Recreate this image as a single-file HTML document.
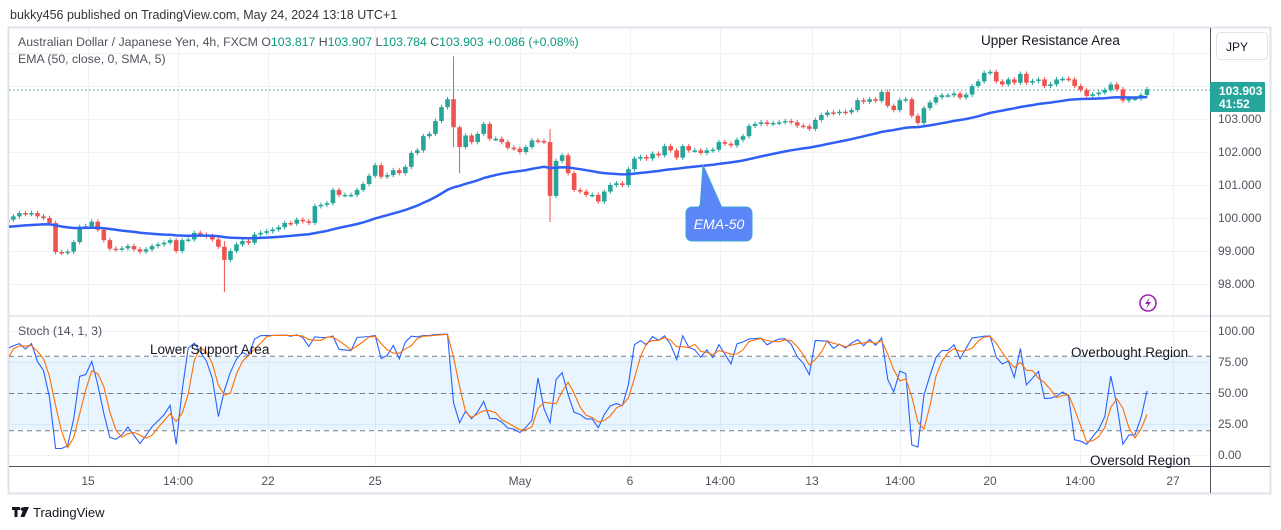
<!DOCTYPE html>
<html><head><meta charset="utf-8"><style>
html,body{margin:0;padding:0;background:#fff;width:1281px;height:530px;overflow:hidden}
svg{display:block;font-family:"Liberation Sans",sans-serif}
</style></head><body>
<svg id="chart" width="1281" height="530" viewBox="0 0 1281 530" xmlns="http://www.w3.org/2000/svg">
<defs><clipPath id="plotclip"><rect x="9" y="28" width="1201" height="438"/></clipPath></defs>
<rect x="0" y="0" width="1281" height="530" fill="#fff"/>
<text x="10" y="19" font-size="12.5" fill="#333">bukky456 published on TradingView.com, May 24, 2024 13:18 UTC+1</text>
<rect x="8.5" y="27.5" width="1262" height="466" fill="none" stroke="#e0e3eb" stroke-width="2"/>
<g id="grid"></g>
<rect x="9" y="357" width="1201" height="73" fill="#2196f3" fill-opacity="0.1"/>
<g id="levels"></g>
<line x1="9" y1="316" x2="1270" y2="316" stroke="#e0e3eb" stroke-width="1.5"/>
<line x1="9" y1="466.5" x2="1270" y2="466.5" stroke="#50535e" stroke-width="1"/>
<line x1="1210.5" y1="28" x2="1210.5" y2="493" stroke="#50535e" stroke-width="1"/>
<line x1="9" y1="90" x2="1210" y2="90" stroke="#26a69a" stroke-width="1" stroke-dasharray="1.5,2.5"/>
<g clip-path="url(#plotclip)">
<g id="candles"></g>
<path id="ema" fill="none" stroke="#2f5ff5" stroke-width="2.5"/>
<path id="stochK" fill="none" stroke="#2962ff" stroke-width="1.1"/>
<path id="stochD" fill="none" stroke="#ff6d00" stroke-width="1.1"/>
</g>
<g id="axes" font-size="12" fill="#50535e"></g>
<text x="18" y="46" font-size="12.3" fill="#50535e">Australian Dollar / Japanese Yen, 4h, FXCM  O<tspan fill="#089981">103.817</tspan>  H<tspan fill="#089981">103.907</tspan>  L<tspan fill="#089981">103.784</tspan>  C<tspan fill="#089981">103.903</tspan>  <tspan fill="#089981">+0.086 (+0.08%)</tspan></text>
<text x="18" y="63" font-size="12.3" fill="#50535e">EMA (50, close, 0, SMA, 5)</text>
<text x="18" y="335" font-size="12.3" fill="#50535e">Stoch (14, 1, 3)</text>
<text x="981" y="45" font-size="13.5" fill="#131722">Upper Resistance Area</text>
<text x="150" y="354" font-size="13.5" fill="#131722">Lower Support Area</text>
<text x="1071" y="357" font-size="13.5" fill="#131722">Overbought Region</text>
<text x="1090" y="465" font-size="13.5" fill="#131722">Oversold Region</text>
<g>
<path d="M700,208 L703,165 L722,208 Z" fill="#5b86f7" stroke="#3fa3d6" stroke-width="1"/>
<rect x="686" y="207" width="66" height="34" rx="6" fill="#5b86f7" stroke="#3fa3d6" stroke-width="1"/>
<rect x="699" y="205" width="22" height="4" fill="#5b86f7"/>
<text x="719" y="229" font-size="14" font-style="italic" fill="#fff" text-anchor="middle">EMA-50</text>
</g>
<g>
<rect x="1216.5" y="32.5" width="51" height="27" rx="4" fill="#fff" stroke="#e0e3eb"/>
<text x="1226" y="51" font-size="12" fill="#131722">JPY</text>
</g>
<g>
<rect x="1210" y="82" width="55" height="30" rx="1" fill="#26a69a"/>
<text x="1219" y="95" font-size="12" font-weight="bold" fill="#fff">103.903</text>
<text x="1219" y="108" font-size="12" font-weight="bold" fill="#fff">41:52</text>
</g>
<g>
<circle cx="1148" cy="303" r="8" fill="none" stroke="#9c27b0" stroke-width="1.6"/>
<path d="M1150,297 L1145,304 L1148,304 L1146,309 L1151,302 L1148,302 Z" fill="#9c27b0"/>
</g>
<g>
<path d="M12,507 h8 v3 h-2.5 v7 h-3 v-7 h-2.5 Z" fill="#131722"/>
<circle cx="22.5" cy="509" r="1.8" fill="#131722"/>
<path d="M24,507 h5 l-4.5,10 h-4 Z" fill="#131722"/>
<text x="33" y="517" font-size="13" fill="#131722">TradingView</text>
</g>
</svg>
<script>
const closes = [99.64,99.88,99.95,100.05,100.15,100.12,100.15,100.05,100.0,99.85,98.97,98.95,98.98,99.27,99.73,
99.75,99.89,99.64,99.33,99.07,99.05,99.08,99.15,99.05,98.98,99.05,99.15,99.2,99.25,99.33,99.0,99.33,99.35,99.55,99.5,99.45,99.35,99.13,98.73,99.0,99.2,99.3,99.25,99.5,
99.55,99.6,99.65,99.72,99.85,99.83,99.95,99.9,99.85,100.36,100.4,100.45,100.85,100.7,100.7,100.7,100.85,101.03,101.28,
101.6,101.25,101.3,101.45,101.36,101.55,101.97,102.05,102.48,102.55,102.94,103.36,103.6,102.75,102.15,102.5,102.3,102.55,102.85,102.4,102.4,102.3,102.13,102.1,102.0,102.15,102.35,102.33,102.3,
100.67,101.73,101.9,101.36,100.85,100.8,100.7,100.7,100.5,100.8,101.0,101.05,101.0,101.48,101.8,101.85,101.8,101.95,101.9,102.18,102.05,101.83,102.18,102.05,102.05,101.97,102.05,102.07,102.3,102.25,102.2,102.37,102.48,102.79,102.85,102.9,102.85,102.88,102.9,102.94,102.9,102.8,
102.78,102.7,102.97,103.12,103.2,103.18,103.22,103.2,103.27,103.57,103.52,103.6,103.55,103.82,103.4,103.27,103.57,103.6,103.1,102.88,103.33,103.5,103.66,103.72,103.72,103.77,103.65,103.74,104.0,104.14,104.4,104.43,104.14,104.05,104.2,104.1,104.37,104.1,104.15,104.2,104.0,104.05,104.2,104.22,104.2,104.0,103.88,103.7,103.75,103.8,103.88,104.05,103.9,103.56,103.62,103.62,103.73,103.903];
const firstOpen = 99.6;
const wickOverrides = [[38,99.3,97.76],[76,104.9,102.15],[77,102.8,101.36],[92,102.7,99.88]];
const emaSeed = 99.72;
const priceTicks = [98,99,100,101,102,103];
const stochTicks = [0,25,50,75,100];
const stochLevels = [20,50,80];
const timeLabels = ["15","14:00","22","25","May","6","14:00","13","14:00","20","14:00","27"];
const timeLabelX = [88,178,268,375,520,630,720,812,900,990,1080,1173];

const NS="http://www.w3.org/2000/svg";
function mk(t,a,p){const e=document.createElementNS(NS,t);for(const k in a)e.setAttribute(k,a[k]);p.appendChild(e);return e;}
const yP=p=>119+(103-p)*33;
const yS=v=>455-v*1.24;
const n=closes.length, x1=1147, step=6.03;
const xB=i=>x1-(n-1-i)*step;

const grid=document.getElementById('grid');
[98,99,100,101,102,103,104,105].forEach(p=>{const l=mk('line',{x1:9,x2:1210,y1:yP(p)+.5,y2:yP(p)+.5,stroke:'#eef1f6','stroke-width':1},grid);

});
stochTicks.forEach(v=>{const l=mk('line',{x1:9,x2:1210,y1:yS(v)+.5,y2:yS(v)+.5,stroke:'#eef1f6','stroke-width':1},grid);

});
timeLabelX.forEach(x=>{const l=mk('line',{x1:x+.5,x2:x+.5,y1:28,y2:466,stroke:'#eef1f6','stroke-width':1},grid);

});
const lev=document.getElementById('levels');
stochLevels.forEach(v=>{const l=mk('line',{x1:9,x2:1210,y1:yS(v)+.5,y2:yS(v)+.5,stroke:'#787b86','stroke-width':1,'stroke-dasharray':'5,4'},lev);

});

const cg=document.getElementById('candles');
const highs=[],lows=[];
for(let i=0;i<n;i++){
  const o=i?closes[i-1]:firstOpen,c=closes[i];
  let h=Math.max(o,c)+0.07,l=Math.min(o,c)-0.07;
  wickOverrides.forEach(w=>{if(w[0]===i){h=Math.max(w[1],Math.max(o,c));l=Math.min(w[2],Math.min(o,c));}});
  highs.push(h);lows.push(l);
  const col=c>=o?'#26a69a':'#ef5350';const x=xB(i);
  const g=mk('g',{},cg);
  
  
  mk('line',{x1:x,x2:x,y1:yP(h),y2:yP(l),stroke:col,'stroke-width':1},g);
  const top=yP(Math.max(o,c)),bh=Math.max(1.5,yP(Math.min(o,c))-top);
  mk('rect',{x:x-2.3,y:top,width:4.6,height:bh,fill:col},g);
}
let e=emaSeed,d='';const a=2/51;
for(let i=0;i<n;i++){e=e+a*(closes[i]-e);d+=(i?'L':'M')+xB(i).toFixed(1)+','+yP(e).toFixed(1);}
document.getElementById('ema').setAttribute('d',d);
const K=[];
for(let i=0;i<n;i++){const s=Math.max(0,i-13);let hh=-1e9,ll=1e9;
  for(let j=s;j<=i;j++){hh=Math.max(hh,highs[j]);ll=Math.min(ll,lows[j]);}
  K.push(hh>ll?Math.min(100,Math.max(0,100*(closes[i]-ll)/(hh-ll))):50);}
const D=K.map((v,i)=>{const s=Math.max(0,i-2);let t=0;for(let j=s;j<=i;j++)t+=K[j];return t/(i-s+1);});
document.getElementById('stochK').setAttribute('d',K.map((v,i)=>(i?'L':'M')+xB(i).toFixed(1)+','+yS(v).toFixed(1)).join(''));
document.getElementById('stochD').setAttribute('d',D.map((v,i)=>(i?'L':'M')+xB(i).toFixed(1)+','+yS(v).toFixed(1)).join(''));
const ax=document.getElementById('axes');
priceTicks.forEach(p=>{const t=mk('text',{x:1218,y:yP(p)+4},ax);t.textContent=p.toFixed(3);

});
stochTicks.forEach(v=>{const t=mk('text',{x:1218,y:yS(v)+4},ax);t.textContent=v.toFixed(2);

});
timeLabels.forEach((s,i)=>{const t=mk('text',{x:timeLabelX[i],y:485,'text-anchor':'middle'},ax);t.textContent=s;

});
</script>
</body></html>
